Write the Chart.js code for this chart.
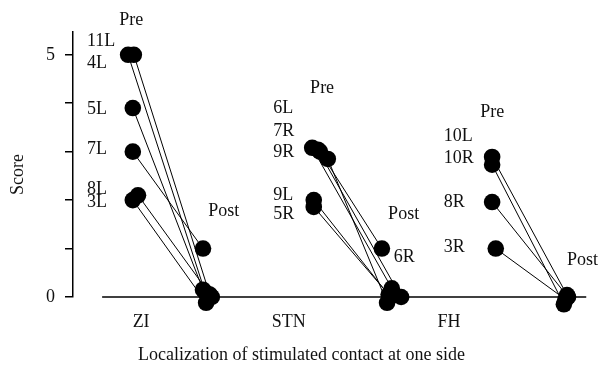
<!DOCTYPE html>
<html>
<head>
<meta charset="utf-8">
<script src="https://cdn.jsdelivr.net/npm/chart.js@4/dist/chart.umd.min.js"></script>
<style>
  html, body { margin: 0; padding: 0; background: #fff; }
  #wrap { width: 603px; height: 373px; }
</style>
</head>
<body>
<div id="wrap"><canvas id="chart"></canvas></div>
<script>
// categories
const regions = ['ZI', 'STN', 'FH'];
const regionX = [13.1, 41.5, 72.3];

// scores per contact, pre and post (x = position along the axis, data units)
const ziPre   = [5, 5, 3.9, 3.0, 2.1, 2.0];
const ziPost  = [0.1, 0.05, 0.15, 1.0, 0, -0.12];
const ziPreX  = [10.6, 11.7, 11.5, 11.5, 12.5, 11.5];
const ziPostX = [25.4, 26.3, 25.0, 25.0, 26.7, 25.6];

const stnPre   = [3.08, 3.04, 2.85, 3.0, 2.0, 1.86];
const stnPost  = [0.18, 0, -0.12, 1.0, 0, 0.05];
const stnPreX  = [46.0, 47.1, 49.0, 47.5, 46.3, 46.3];
const stnPostX = [61.3, 63.1, 60.4, 59.4, 61.0, 60.7];

const fhPre   = [2.89, 2.73, 1.96, 1.0];
const fhPost  = [0.04, -0.15, 0, -0.05];
const fhPreX  = [80.6, 80.6, 80.6, 81.3];
const fhPostX = [95.0, 94.4, 95.2, 94.7];

// y ticks
const yTicks = [0, 1, 2, 3, 4, 5];
const yTickLabels = ['0', '', '', '', '', '5'];

// text annotations [text, x, y, align] in data units
const notes = [
  ['Pre', 11.2, 5.72, 'center'],
  ['11L', 2.7, 5.27, 'left'], ['4L', 2.7, 4.83, 'left'], ['5L', 2.7, 3.88, 'left'],
  ['7L', 2.7, 3.04, 'left'], ['8L', 2.7, 2.23, 'left'], ['3L', 2.7, 1.96, 'left'],
  ['Post', 26.0, 1.78, 'left'],
  ['Pre', 45.6, 4.30, 'left'],
  ['6L', 38.5, 3.90, 'left'], ['7R', 38.5, 3.43, 'left'], ['9R', 38.5, 2.98, 'left'],
  ['9L', 38.5, 2.11, 'left'], ['5R', 38.5, 1.71, 'left'],
  ['Post', 60.6, 1.71, 'left'], ['6R', 61.7, 0.83, 'left'],
  ['Pre', 78.3, 3.82, 'left'],
  ['10L', 71.3, 3.31, 'left'], ['10R', 71.3, 2.87, 'left'], ['8R', 71.3, 1.96, 'left'],
  ['3R', 71.3, 1.03, 'left'],
  ['Post', 95.0, 0.76, 'left']
];
const zeroLine = [5.6, 98.7];
const xTitle = 'Localization of stimulated contact at one side';
const yTitle = 'Score';

const FONT = '"Liberation Serif", "DejaVu Serif", serif';

function pairs(pre, post, preX, postX) {
  return pre.map((v, i) => ({
    type: 'line',
    data: [{ x: preX[i], y: v }, { x: postX[i], y: post[i] }],
    borderColor: '#000',
    borderWidth: 1,
    pointRadius: 8.3,
    pointBackgroundColor: '#000',
    pointBorderColor: '#000',
    pointBorderWidth: 0,
    clip: false
  }));
}

const datasets = [
  ...pairs(ziPre, ziPost, ziPreX, ziPostX),
  ...pairs(stnPre, stnPost, stnPreX, stnPostX),
  ...pairs(fhPre, fhPost, fhPreX, fhPostX)
];

const extras = {
  id: 'extras',
  beforeDatasetsDraw(chart) {
    const { ctx, scales: { x, y } } = chart;
    ctx.save();
    ctx.strokeStyle = '#000';
    ctx.lineWidth = 1.5;
    ctx.beginPath();
    ctx.moveTo(x.getPixelForValue(zeroLine[0]), y.getPixelForValue(0));
    ctx.lineTo(x.getPixelForValue(zeroLine[1]), y.getPixelForValue(0));
    ctx.stroke();
    ctx.restore();
  },
  afterDatasetsDraw(chart) {
    const { ctx, width, scales: { x, y } } = chart;
    ctx.save();
    ctx.fillStyle = '#111';
    ctx.font = '18px ' + FONT;
    ctx.textBaseline = 'middle';
    notes.forEach(([t, nx, ny, al]) => {
      ctx.textAlign = al;
      ctx.fillText(t, x.getPixelForValue(nx), y.getPixelForValue(ny));
    });
    // axis titles
    ctx.textAlign = 'center';
    ctx.fillText(xTitle, width / 2, 355);
    ctx.translate(18, (y.top + y.bottom) / 2 + 10);
    ctx.rotate(-Math.PI / 2);
    ctx.fillText(yTitle, 0, 0);
    ctx.restore();
  }
};

new Chart(document.getElementById('chart'), {
  type: 'scatter',
  data: { datasets },
  options: {
    responsive: true,
    maintainAspectRatio: false,
    animation: false,
    layout: { padding: { top: 32, right: 10, left: 0, bottom: 0 } },
    plugins: { legend: { display: false }, tooltip: { enabled: false } },
    scales: {
      x: {
        type: 'linear',
        min: 0,
        max: 100,
        border: { display: false },
        grid: { display: false, drawTicks: false },
        afterBuildTicks(s) { s.ticks = regionX.map(v => ({ value: v })); },
        ticks: {
          padding: 14,
          color: '#111',
          font: { family: FONT, size: 18 },
          callback: (v, i) => regions[i]
        },
        afterFit(s) { s.height = 76; }
      },
      y: {
        type: 'linear',
        min: 0,
        max: 5.47,
        border: { display: true, color: '#000', width: 1.5 },
        grid: { drawOnChartArea: false, drawTicks: true, tickLength: 8, color: '#000', lineWidth: 1.5 },
        afterBuildTicks(s) { s.ticks = yTicks.map(v => ({ value: v })); },
        ticks: {
          padding: 10,
          color: '#111',
          font: { family: FONT, size: 18 },
          callback: (v, i) => yTickLabels[i]
        },
        afterFit(s) { s.width = 73; }
      }
    }
  },
  plugins: [extras]
});
</script>
</body>
</html>
